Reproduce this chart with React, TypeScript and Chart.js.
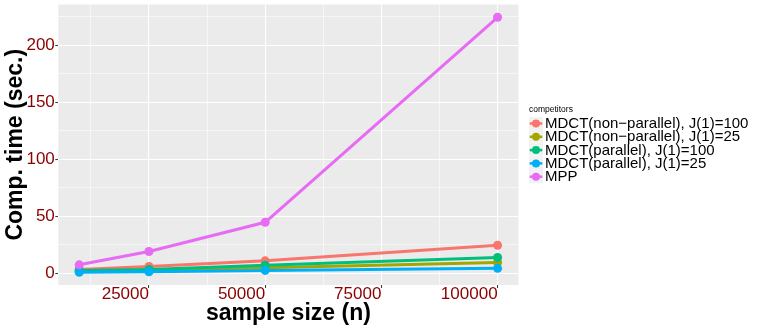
import React, { useEffect, useRef } from "react";
import { Chart, registerables } from "chart.js";

Chart.register(...registerables);

// ---- data ----
const sampleSizes = [10000, 25000, 50000, 100000];
const seriesNames = [
  "MDCT(non\u2212parallel), J(1)=100",
  "MDCT(non\u2212parallel), J(1)=25",
  "MDCT(parallel), J(1)=100",
  "MDCT(parallel), J(1)=25",
  "MPP",
];
const mdctNonParallel100 = [3.5, 6.0, 11.0, 24.7];
const mdctNonParallel25 = [1.8, 2.8, 5.0, 9.6];
const mdctParallel100 = [2.5, 3.5, 7.2, 14.0];
const mdctParallel25 = [1.0, 1.4, 2.6, 4.4];
const mpp = [7.5, 19.2, 44.8, 224.7];
const seriesValues = [mdctNonParallel100, mdctNonParallel25, mdctParallel100, mdctParallel25, mpp];
const seriesColors = ["#F8766D", "#A3A500", "#00BF7D", "#00B0F6", "#E76BF3"];

const xMajorTicks = [25000, 50000, 75000, 100000];
const xMinorTicks = [12500, 37500, 62500, 87500];
const yMajorTicks = [0, 50, 100, 150, 200];
const yMinorTicks = [25, 75, 125, 175, 225];

const legendTitle = "competitors";
const xTitle = "sample size (n)";
const yTitle = "Comp. time (sec.)";

const FONT = "'Liberation Sans', Arial, Helvetica, sans-serif";

const ggPlugin = {
  id: "ggstyle",
  beforeDraw(chart: any) {
    const { ctx, chartArea: a } = chart;
    ctx.save();
    ctx.fillStyle = "#EBEBEB";
    ctx.fillRect(a.left, a.top, a.right - a.left, a.bottom - a.top);
    ctx.restore();
  },
  afterDraw(chart: any) {
    const { ctx } = chart;
    const x0 = 529;
    const keyW = 14;
    const step = 13.3;
    const y0 = 123.5;
    ctx.save();
    ctx.fillStyle = "#000";
    ctx.font = `8.5px ${FONT}`;
    ctx.textAlign = "left";
    ctx.textBaseline = "middle";
    ctx.fillText(legendTitle, x0, 109.5);
    chart.data.datasets.forEach((ds: any, i: number) => {
      const cy = y0 + i * step;
      ctx.fillStyle = "#F2F2F2";
      ctx.fillRect(x0, cy - step / 2, keyW, step);
      ctx.strokeStyle = ds.borderColor;
      ctx.lineWidth = 2.5;
      ctx.beginPath();
      ctx.moveTo(x0 + 0.7, cy);
      ctx.lineTo(x0 + keyW - 0.7, cy);
      ctx.stroke();
      ctx.fillStyle = ds.backgroundColor;
      ctx.beginPath();
      ctx.arc(x0 + keyW / 2, cy, 4, 0, Math.PI * 2);
      ctx.fill();
      ctx.fillStyle = "#000";
      ctx.font = `15px ${FONT}`;
      ctx.fillText(ds.label, x0 + keyW + 2, cy + 0.5);
    });
    ctx.restore();
  },
};

const isIn = (arr: number[], v: number) => arr.some((m) => Math.abs(m - v) < 1e-6);

export default function App() {
  const ref = useRef<HTMLCanvasElement>(null);
  useEffect(() => {
    const datasets = seriesNames.map((name, i) => ({
      label: name,
      data: sampleSizes.map((x, j) => ({ x, y: seriesValues[i][j] })),
      borderColor: seriesColors[i],
      backgroundColor: seriesColors[i],
      borderWidth: 3,
      pointRadius: 4.5,
      pointBorderWidth: 0,
      pointHoverRadius: 4.5,
      tension: 0,
      fill: false,
      order: seriesNames.length - i,
    }));
    const chart = new Chart(ref.current!, {
      type: "line",
      data: { datasets },
      plugins: [ggPlugin],
      options: {
        responsive: false,
        animation: false,
        layout: { padding: { left: 0, top: 4, right: 244.5, bottom: 0 } },
        plugins: { legend: { display: false }, tooltip: { enabled: false } },
        scales: {
          x: {
            type: "linear",
            min: 5500,
            max: 104500,
            afterBuildTicks: (s: any) => {
              s.ticks = [...xMinorTicks, ...xMajorTicks].sort((a, b) => a - b).map((v) => ({ value: v }));
            },
            afterFit: (s: any) => {
              s.height = 42;
              s.paddingLeft = 0;
              s.paddingRight = 0;
            },
            border: { display: false },
            grid: {
              color: "#FFFFFF",
              lineWidth: (c: any) => (isIn(xMajorTicks, c.tick?.value) ? 1.1 : 0.55),
              tickColor: (c: any) => (isIn(xMajorTicks, c.tick?.value) ? "#333333" : "rgba(0,0,0,0)"),
              tickWidth: 1,
              tickLength: 3,
              drawTicks: true,
            },
            ticks: {
              autoSkip: false,
              maxRotation: 0,
              align: "end",
              padding: -3.4,
              color: "#8B0000",
              font: { size: 17, family: FONT },
              callback: (v: any) => (isIn(xMajorTicks, Number(v)) ? String(v) : ""),
            },
            title: {
              display: true,
              text: xTitle,
              color: "#000000",
              padding: 0,
              font: { size: 23, weight: "bold", family: FONT },
            },
          },
          y: {
            type: "linear",
            min: -10.2,
            max: 235.9,
            afterBuildTicks: (s: any) => {
              s.ticks = [...yMinorTicks, ...yMajorTicks].sort((a, b) => a - b).map((v) => ({ value: v }));
            },
            afterFit: (s: any) => {
              s.width = 58.3;
              s.paddingTop = 0;
              s.paddingBottom = 0;
            },
            border: { display: false },
            grid: {
              color: "#FFFFFF",
              lineWidth: (c: any) => (isIn(yMajorTicks, c.tick?.value) ? 1.1 : 0.55),
              tickColor: (c: any) => (isIn(yMajorTicks, c.tick?.value) ? "#333333" : "rgba(0,0,0,0)"),
              tickWidth: 1,
              tickLength: 3,
              drawTicks: true,
            },
            ticks: {
              autoSkip: false,
              padding: 0.5,
              color: "#8B0000",
              font: { size: 17, family: FONT },
              callback: (v: any) => (isIn(yMajorTicks, Number(v)) ? String(v) : ""),
            },
            title: {
              display: true,
              text: yTitle,
              color: "#000000",
              padding: { top: 2.2, bottom: 0 },
              font: { size: 23, weight: "bold", family: FONT },
            },
          },
        },
      } as any,
    });
    return () => chart.destroy();
  }, []);
  return (
    <div style={{ position: "fixed", left: 0, top: 0, width: 763, height: 327 }}>
      <canvas ref={ref} width={763} height={327} style={{ display: "block" }} />
    </div>
  );
}
